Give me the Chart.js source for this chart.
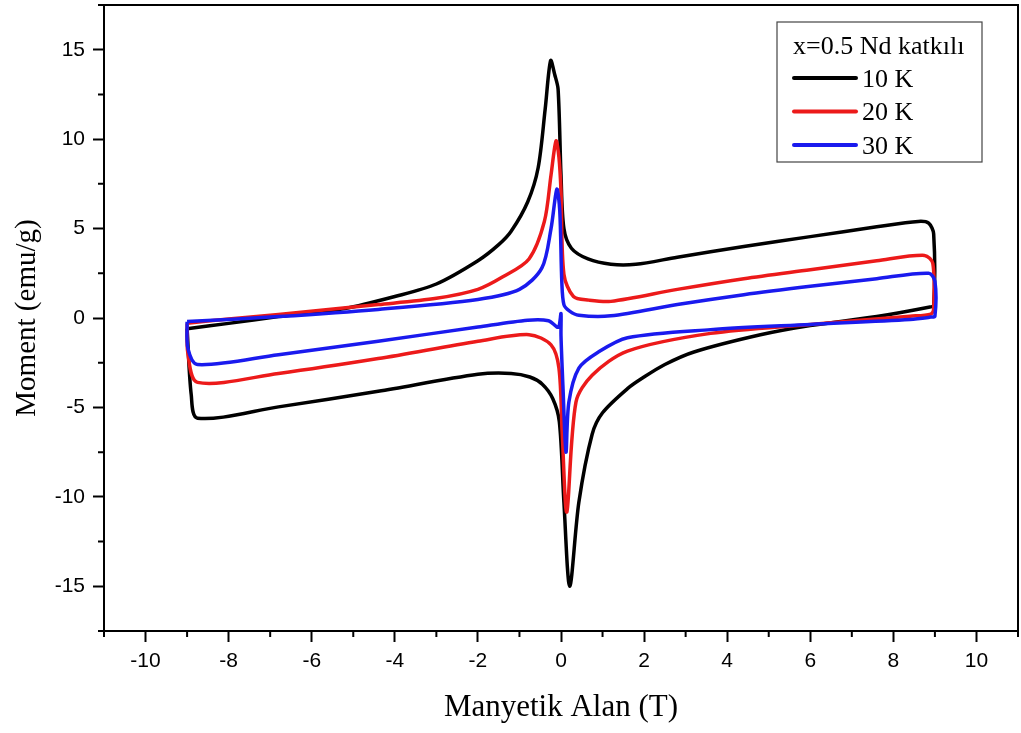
<!DOCTYPE html>
<html>
<head>
<meta charset="utf-8">
<script src="https://cdn.jsdelivr.net/npm/chart.js@4.4.1/dist/chart.umd.min.js"></script>
<style>
    html, body { margin: 0; padding: 0; background: #fff; }
    #wrap { width: 1021px; height: 733px; position: relative; }
</style>
</head>
<body>
<div id="wrap"><canvas id="loopChart"></canvas></div>
<script>
// 10 K loop (upper branch left->right, then lower branch right->left)
const field10 = [-9.0, -8.0, -6.8, -5.2, -4.0, -3.0, -2.0, -1.5, -1.2, -0.8, -0.55, -0.38, -0.25, -0.15, -0.07, 0.0, 0.07, 0.25, 0.65, 1.2, 1.8, 2.8, 4.4, 6.0, 7.6, 8.6, 8.85, 8.97,
    8.97, 8.85, 7.6, 6.0, 4.8, 3.2, 2.5, 2.0, 1.6, 1.0, 0.75, 0.43, 0.21, 0.07, -0.04, -0.2, -0.45, -0.75, -1.2, -2.0, -4.4, -6.8, -8.75, -8.9, -9.0];
const moment10 = [-0.6, -0.3, 0.08, 0.53, 1.2, 1.9, 3.2, 4.1, 4.85, 6.5, 8.4, 11.7, 14.4, 13.6, 12.8, 8.0, 5.0, 3.9, 3.3, 3.0, 3.0, 3.4, 4.0, 4.55, 5.1, 5.4, 5.3, 4.7,
    0.7, 0.6, 0.08, -0.42, -0.94, -1.9, -2.6, -3.3, -3.95, -5.3, -6.5, -10.3, -15.0, -10.3, -5.8, -4.5, -3.7, -3.3, -3.1, -3.15, -4.1, -4.97, -5.6, -4.3, -0.6];

// 20 K loop
const field20 = [-9.0, -8.0, -6.8, -4.4, -3.0, -2.0, -1.4, -0.77, -0.4, -0.24, -0.12, -0.05, 0.0, 0.07, 0.3, 0.67, 1.2, 2.8, 4.4, 6.0, 7.6, 8.75, 8.95,
    8.97, 8.9, 8.4, 6.0, 3.6, 1.6, 0.75, 0.36, 0.14, 0.03, -0.05, -0.24, -0.77, -2.0, -4.4, -6.8, -8.75, -8.98, -9.0];
const moment20 = [-0.3, -0.05, 0.2, 0.75, 1.1, 1.6, 2.3, 3.3, 5.4, 8.0, 9.9, 9.0, 7.1, 2.45, 1.2, 1.0, 0.93, 1.6, 2.2, 2.7, 3.2, 3.5, 3.05,
    0.5, 0.22, 0.1, -0.36, -0.86, -1.85, -3.2, -4.7, -10.85, -6.5, -2.8, -1.5, -0.93, -1.3, -2.27, -3.1, -3.6, -2.0, -0.3];

// 30 K loop
const field30 = [-9.0, -6.8, -4.4, -2.0, -1.0, -0.46, -0.24, -0.1, -0.03, 0.02, 0.07, 0.2, 0.43, 1.2, 2.8, 4.4, 6.0, 7.6, 8.85, 9.0,
    9.0, 8.9, 8.4, 6.0, 3.6, 1.6, 0.9, 0.43, 0.19, 0.12, 0.05, 0.0, 0.0, -0.05, -0.1, -0.3, -0.8, -2.0, -4.4, -6.8, -8.75, -8.98, -9.0];
const moment30 = [-0.2, 0.08, 0.48, 1.04, 1.6, 2.8, 5.0, 7.2, 6.0, 2.0, 0.75, 0.4, 0.15, 0.12, 0.75, 1.3, 1.77, 2.2, 2.5, 2.05,
    0.1, 0.05, -0.08, -0.36, -0.65, -1.1, -1.9, -2.8, -4.7, -7.5, -4.0, -1.0, 0.25, -0.5, -0.5, -0.15, -0.12, -0.5, -1.3, -2.05, -2.6, -1.7, -0.2];

const seriesLabels = ['10 K', '20 K', '30 K'];
const seriesColors = ['#000000', '#ec1a1a', '#1a1aee'];
const legendTitle = 'x=0.5 Nd katkılı';

const xTicks = [-10, -8, -6, -4, -2, 0, 2, 4, 6, 8, 10];
const xMinor = [-11, -9, -7, -5, -3, -1, 1, 3, 5, 7, 9, 11];
const yTicks = [-15, -10, -5, 0, 5, 10, 15];
const yMinor = [-17.5, -12.5, -7.5, -2.5, 2.5, 7.5, 12.5, 17.5];

function toPoints(xs, ys) {
    return xs.map((x, i) => ({ x: x, y: ys[i] }));
}

const serifFont = '"Liberation Serif", "Times New Roman", serif';
const sansFont = '"Liberation Sans", Arial, sans-serif';

// box frame, minor ticks and the legend box
const framePlugin = {
    id: 'frame',
    afterDatasetsDraw(chart) {
        const { ctx, chartArea: a, scales: { x, y } } = chart;
        ctx.save();
        ctx.strokeStyle = '#000';
        ctx.lineWidth = 2;
        ctx.strokeRect(a.left, a.top, a.right - a.left, a.bottom - a.top);

        ctx.beginPath();
        xMinor.forEach(v => {
            const px = x.getPixelForValue(v);
            ctx.moveTo(px, a.bottom);
            ctx.lineTo(px, a.bottom + 6);
        });
        yMinor.forEach(v => {
            const py = y.getPixelForValue(v);
            ctx.moveTo(a.left, py);
            ctx.lineTo(a.left - 6, py);
        });
        ctx.stroke();

        // legend
        const boxLeft = a.right - 241;
        const boxTop = a.top + 17;
        ctx.fillStyle = '#fff';
        ctx.fillRect(boxLeft, boxTop, 205, 140);
        ctx.strokeStyle = '#444';
        ctx.lineWidth = 1.2;
        ctx.strokeRect(boxLeft, boxTop, 205, 140);

        ctx.fillStyle = '#000';
        ctx.font = '26px ' + serifFont;
        ctx.textBaseline = 'alphabetic';
        ctx.textAlign = 'left';
        ctx.fillText(legendTitle, boxLeft + 16, boxTop + 32);

        chart.data.datasets.forEach((ds, i) => {
            const ly = boxTop + 56 + i * 33.5;
            ctx.strokeStyle = ds.borderColor;
            ctx.lineWidth = 4;
            ctx.lineCap = 'round';
            ctx.beginPath();
            ctx.moveTo(boxLeft + 17, ly);
            ctx.lineTo(boxLeft + 79, ly);
            ctx.stroke();
            ctx.fillStyle = '#000';
            ctx.textBaseline = 'middle';
            ctx.fillText(ds.label, boxLeft + 85, ly + 2);
        });
        ctx.restore();
    }
};

document.addEventListener('DOMContentLoaded', function () {
    const ctx = document.getElementById('loopChart').getContext('2d');

    const loops = [[field10, moment10], [field20, moment20], [field30, moment30]];

    new Chart(ctx, {
        type: 'scatter',
        data: {
            datasets: loops.map((loop, i) => ({
                label: seriesLabels[i],
                data: toPoints(loop[0], loop[1]),
                showLine: true,
                borderColor: seriesColors[i],
                backgroundColor: seriesColors[i],
                borderWidth: 3.5,
                pointRadius: 0,
                tension: 0.3,
                fill: false,
                order: 3 - i,
            })),
        },
        options: {
            responsive: true,
            maintainAspectRatio: false,
            animation: false,
            layout: { padding: { top: 5, right: 3, left: 0, bottom: 0 } },
            plugins: {
                legend: { display: false },
                tooltip: { enabled: false },
            },
            scales: {
                x: {
                    type: 'linear',
                    min: -11,
                    max: 11,
                    afterBuildTicks: s => { s.ticks = xTicks.map(v => ({ value: v })); },
                    afterFit: s => {
                        s.height = 102;
                        s.paddingLeft = 0;
                        s.paddingRight = 0;
                    },
                    ticks: {
                        color: '#000',
                        font: { family: sansFont, size: 21 },
                        padding: 7,
                        maxRotation: 0,
                    },
                    grid: { drawOnChartArea: false, drawTicks: true, tickLength: 11, tickWidth: 2, tickColor: '#000' },
                    border: { display: true, color: '#000', width: 2 },
                    title: {
                        display: true,
                        text: 'Manyetik Alan (T)',
                        color: '#000',
                        font: { family: serifFont, size: 31 },
                        padding: { top: 0, bottom: 7 },
                    },
                },
                y: {
                    type: 'linear',
                    min: -17.5,
                    max: 17.5,
                    afterBuildTicks: s => { s.ticks = yTicks.map(v => ({ value: v })); },
                    afterFit: s => {
                        s.width = 104;
                        s.paddingTop = 0;
                        s.paddingBottom = 0;
                    },
                    ticks: {
                        color: '#000',
                        font: { family: sansFont, size: 21 },
                        padding: 8,
                    },
                    grid: { drawOnChartArea: false, drawTicks: true, tickLength: 11, tickWidth: 2, tickColor: '#000' },
                    border: { display: true, color: '#000', width: 2 },
                    title: {
                        display: true,
                        text: 'Moment (emu/g)',
                        color: '#000',
                        font: { family: serifFont, size: 29 },
                        padding: { top: 10, bottom: 0 },
                    },
                },
            },
        },
        plugins: [framePlugin],
    });
});
</script>
</body>
</html>
